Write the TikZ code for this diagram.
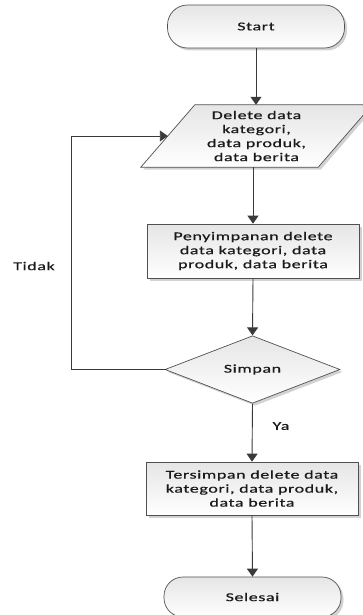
\documentclass[tikz,border=0pt]{standalone}
\usepackage{fontspec}
\setmainfont{Carlito}[FakeStretch=1.5,LetterSpace=5,FakeBold=0.5]
\usetikzlibrary{arrows.meta,shapes.geometric,shadows}
\definecolor{linec}{HTML}{505050}
\definecolor{arrc}{HTML}{3A3A3A}
\definecolor{txtc}{HTML}{1A1A1A}
\begin{document}
\begin{tikzpicture}[x=1pt,y=-1pt,
  shade/.style={top color=black!10,bottom color=white},
  shad/.style={drop shadow={shadow xshift=2.5pt,shadow yshift=-2.5pt,fill=black!35,opacity=0.5}},
  txt/.style={text=txtc,font=\fontsize{12}{14}\selectfont,align=center,inner sep=0pt},
  box/.style={txt,draw=linec,line width=0.7pt,shade,shad},
  procbox/.style={box,rectangle,minimum width=212pt,minimum height=54pt},
  term/.style={box,rectangle,rounded corners=20pt,minimum width=177pt,minimum height=43pt},
  decision/.style={box,diamond,minimum width=175pt,minimum height=60pt},
  arr/.style={draw=arrc,line width=0.9pt,-{Triangle[length=8pt,width=11pt]}},
  lbl/.style={txt}]
\useasboundingbox (0,0) rectangle (362,615);

\node[term] (start) at (256,26.5) {Start};

\node[txt,minimum width=177pt,minimum height=62pt] (input) at (256.5,136) {};
\path[draw=linec,line width=0.7pt,shade,shad]
  ([xshift=-27pt]input.south west) -- ([xshift=-27pt]input.south east)
  -- ([xshift=27pt]input.north east) -- ([xshift=27pt]input.north west) -- cycle;
\node[txt] (inputtxt) at (input.center) {Delete data\\kategori,\\data produk,\\data berita};

\node[procbox] (proc1) at (253,251) {Penyimpanan delete\\data kategori, data\\produk, data berita};
\node[decision] (dec) at (252.5,369.5) {Simpan};
\node[procbox,minimum height=53pt] (proc2) at (252,488.5) {Tersimpan delete data\\kategori, data produk,\\data berita};
\node[term,minimum height=40pt,rounded corners=19pt] (stop) at (252.5,597) {Selesai};

\node[lbl] (tidak) at (34,266) {Tidak};
\node[lbl] (ya) at (281,426) {Ya};

\coordinate (loop) at (71,136);

\draw[arr] (start.south) -- (start.south |- input.north);
\draw[arr] (input.south -| proc1.north) -- (proc1.north);
\draw[arr] (proc1.south) -- (dec.north);
\draw[arr] (dec.west) -| (loop) -- (input.west);
\draw[arr] (dec.south) -- (proc2.north);
\draw[arr] (proc2.south) -- (stop.north);
\end{tikzpicture}
\end{document}
